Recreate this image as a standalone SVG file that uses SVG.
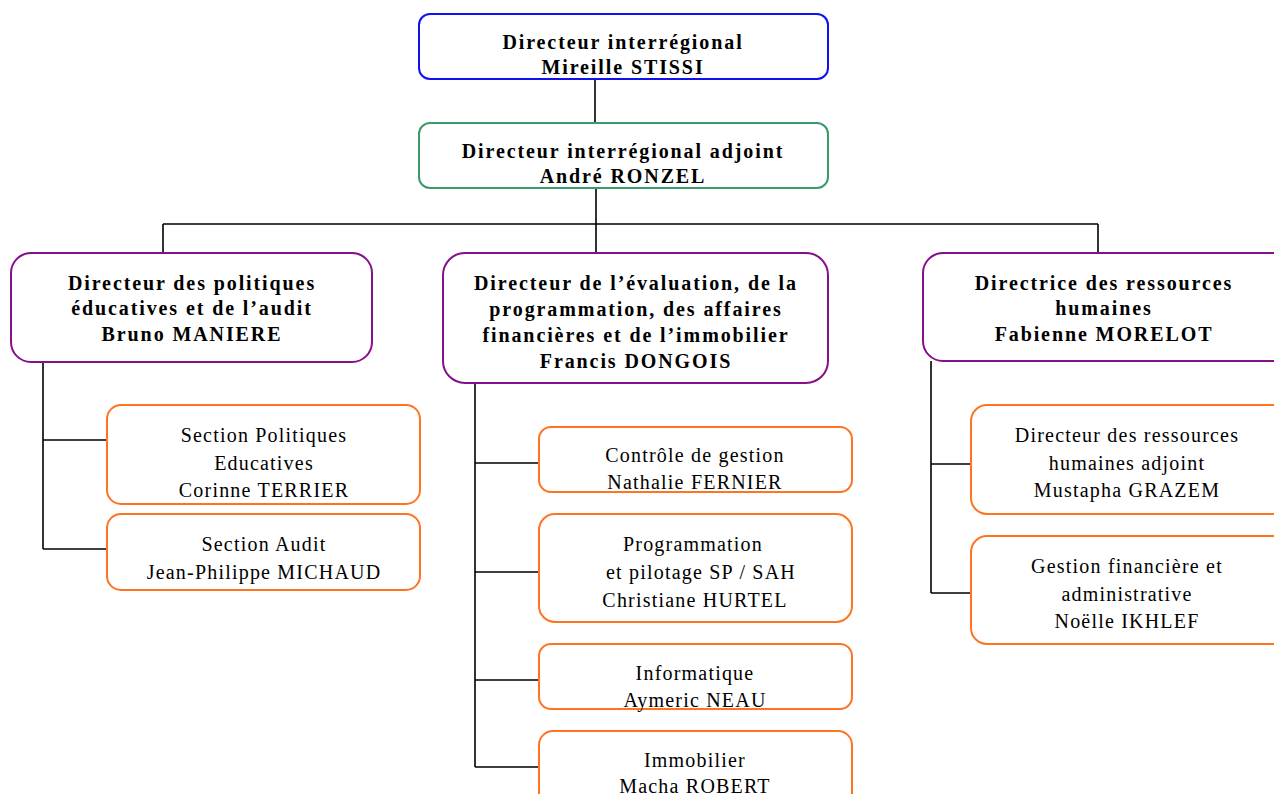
<svg xmlns="http://www.w3.org/2000/svg" width="1274" height="794" viewBox="0 0 1274 794">
<style>
.box{fill:#fff;stroke-width:2}
.blue{stroke:#1010f0}
.green{stroke:#3a9a6c}
.purple{stroke:#85108a}
.orange{stroke:#ff7420}
.b{font-family:"Liberation Serif",serif;font-weight:bold;font-size:20px;letter-spacing:1.9px;fill:#000;text-anchor:middle}
.r{font-family:"Liberation Serif",serif;font-size:20px;letter-spacing:1.2px;fill:#000;text-anchor:middle}
.c{stroke:#000;stroke-width:1.6;fill:none}
</style>
<rect width="1274" height="794" fill="#fff"/>
<g id="connectors">
<path class="c" d="M595,79V123M596,188V224M163,224H1098M163,224V253M596,224V253M1098,224V253"/>
<path class="c" d="M43,362V549M43,440H107M43,549H107"/>
<path class="c" d="M475,383V767M475,463H539M475,572H539M475,680H539M475,767H539"/>
<path class="c" d="M931,361V593M931,464H971M931,593H971"/>
</g>
<g id="n-dir">
<rect class="box blue" x="419" y="14" width="409" height="65" rx="11"/>
<text class="b"><tspan x="623" y="49">Directeur interrégional</tspan><tspan x="623" y="74">Mireille STISSI</tspan></text>
</g>
<g id="n-adj">
<rect class="box green" x="419" y="123" width="409" height="65" rx="11"/>
<text class="b"><tspan x="623" y="158">Directeur interrégional adjoint</tspan><tspan x="623" y="183">André RONZEL</tspan></text>
</g>
<g id="n-pol">
<rect class="box purple" x="11" y="253" width="361" height="109" rx="20"/>
<text class="b"><tspan x="192" y="290">Directeur des politiques</tspan><tspan x="192" y="315">éducatives et de l’audit</tspan><tspan x="192" y="341">Bruno MANIERE</tspan></text>
</g>
<g id="n-eval">
<rect class="box purple" x="443" y="253" width="385" height="130" rx="22"/>
<text class="b"><tspan x="636" y="290">Directeur de l’évaluation, de la</tspan><tspan x="636" y="316">programmation, des affaires</tspan><tspan x="636" y="342">financières et de l’immobilier</tspan><tspan x="636" y="368">Francis DONGOIS</tspan></text>
</g>
<g id="n-rh">
<rect class="box purple" x="923" y="253" width="370" height="108" rx="20"/>
<text class="b"><tspan x="1104" y="290">Directrice des ressources</tspan><tspan x="1104" y="315">humaines</tspan><tspan x="1104" y="341">Fabienne MORELOT</tspan></text>
</g>
<g id="n-spe">
<rect class="box orange" x="107" y="405" width="313" height="99" rx="14"/>
<text class="r"><tspan x="264" y="442">Section Politiques</tspan><tspan x="264" y="470">Educatives</tspan><tspan x="264" y="497">Corinne TERRIER</tspan></text>
</g>
<g id="n-audit">
<rect class="box orange" x="107" y="514" width="313" height="76" rx="14"/>
<text class="r"><tspan x="264" y="551">Section Audit</tspan><tspan x="264" y="579">Jean-Philippe MICHAUD</tspan></text>
</g>
<g id="n-cg">
<rect class="box orange" x="539" y="427" width="313" height="65" rx="12"/>
<text class="r"><tspan x="695" y="462">Contrôle de gestion</tspan><tspan x="695" y="489">Nathalie FERNIER</tspan></text>
</g>
<g id="n-prog">
<rect class="box orange" x="539" y="514" width="313" height="108" rx="16"/>
<text class="r"><tspan x="693" y="551">Programmation</tspan><tspan x="701" y="579">et pilotage SP / SAH</tspan><tspan x="695" y="607">Christiane HURTEL</tspan></text>
</g>
<g id="n-info">
<rect class="box orange" x="539" y="644" width="313" height="65" rx="12"/>
<text class="r"><tspan x="695" y="680">Informatique</tspan><tspan x="695" y="707">Aymeric NEAU</tspan></text>
</g>
<g id="n-immo">
<rect class="box orange" x="539" y="731" width="313" height="80" rx="14"/>
<text class="r"><tspan x="695" y="767">Immobilier</tspan><tspan x="695" y="793">Macha ROBERT</tspan></text>
</g>
<g id="n-drha">
<rect class="box orange" x="971" y="405" width="320" height="109" rx="16"/>
<text class="r"><tspan x="1127" y="442">Directeur des ressources</tspan><tspan x="1127" y="470">humaines adjoint</tspan><tspan x="1127" y="497">Mustapha GRAZEM</tspan></text>
</g>
<g id="n-gfa">
<rect class="box orange" x="971" y="536" width="320" height="108" rx="16"/>
<text class="r"><tspan x="1127" y="573">Gestion financière et</tspan><tspan x="1127" y="601">administrative</tspan><tspan x="1127" y="628">Noëlle IKHLEF</tspan></text>
</g>
</svg>
